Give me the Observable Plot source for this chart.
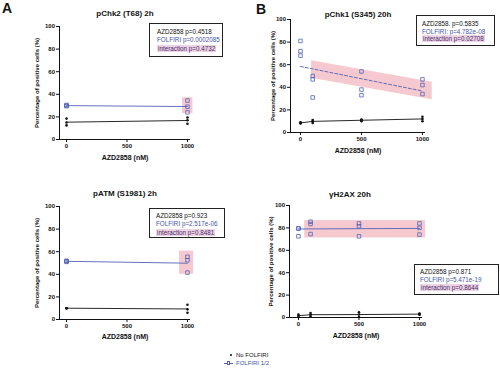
<!DOCTYPE html>
<html><head><meta charset="utf-8">
<script src="https://cdn.jsdelivr.net/npm/d3@7"></script>
<script src="https://cdn.jsdelivr.net/npm/@observablehq/plot@0.6"></script>
<style>
body{margin:0;background:#fff;font-family:"Liberation Sans",Arial,sans-serif;}
#root{position:relative;width:500px;height:382px;overflow:hidden;background:#fff;}
.abs{position:absolute;}
.letter{position:absolute;font-size:14px;font-weight:bold;color:#111;line-height:1;}
.box{position:absolute;border:1px solid #222;background:#fff;box-sizing:border-box;font-size:6.3px;}
.box div{position:absolute;white-space:nowrap;line-height:8px;height:8px;}
.l0{color:#111;}
.l1{color:#4455aa;}
.l2 span{color:#4b2a6a;background:#ecd3e4;padding:0 1px;}
.leg{position:absolute;font-size:6px;color:#111;line-height:8px;white-space:nowrap;}
</style></head><body><div id="root"></div>
<script>
// ---------- data ----------
const doses2h  = [0,0,0,1000,1000,1000];
const doses20h = [0,0,0,100,100,100,500,500,500,1000,1000,1000];

const pChk2NoF = [18.5,15,12.5, 19.5,17,14];
const pChk2F   = [30,29.5,30.5, 34.5,29,24];

const pAtmNoF  = [10,10,10, 13,9,6];
const pAtmF    = [51,52,51.5, 55.5,52.5,41.5];

const pChk1NoF = [8,8.5,9, 8.5,10,11, 10,11,11.5, 10,12,14];
const pChk1F   = [81,72,68, 50,47,31, 54,38,33, 47,42,34];

const h2axNoF  = [2.7,0.5,1.5, 4,1,2.5, 4.7,2.7,0.5, 3,3.5,2.5];
const h2axF    = [79.5,72.5,79.5, 85.5,83.5,74.5, 84,81.5,72.5, 84,80,74];

// shaded confidence regions
const bandPChk2 = [{x1:959, x2:1045, y1:23, y2:37}];
const bandPAtm  = [{x1:934, x2:1050, y1:40, y2:60.5}];
const bandH2ax  = [{x1:52,  x2:1050, y1:71, y2:86.5}];
const bandPChk1 = [{x:90, lo:48, hi:63.5}, {x:1080, lo:29, hi:44.5}];

const xTicks = [0,500,1000];
const yTicks = [0,20,40,60,80,100];
const titles = ["pChk2 (T68) 2h","pChk1 (S345) 20h","pATM (S1981) 2h","γH2AX 20h"];
const xLabel = "AZD2858 (nM)";
const yLabel = "Percentage of positive cells (%)";

const statsPChk2 = ["AZD2858 p=0.4518","FOLFIRI p=0.0002085","interaction p=0.4732"];
const statsPChk1 = ["AZD2858. p=0.5835","FOLFIRI: p=4.782e-08","interaction p=0.02708"];
const statsPAtm  = ["AZD2858 p=0.923","FOLFIRI p=2.517e-06","interaction p=0.8481"];
const statsH2ax  = ["AZD2858 p=0.871","FOLFIRI p=5.471e-19","interaction p=0.8644"];

const legendLabels = ["No FOLFIRI","FOLFIRI 1/2"];

// ---------- styles ----------
const BLUE = "#5062b8";
const BAND = "#f4c3ca";
const INK = "#111";

const root = document.getElementById("root");

function panel(o){
  const rowsNo = o.doses.map((d,i)=>({dose:d, v:o.noF[i]}));
  const rowsF  = o.doses.map((d,i)=>({dose:d, v:o.withF[i]}));
  const marks = [];
  if (o.bandRect) marks.push(Plot.rect(o.bandRect, {x1:"x1", x2:"x2", y1:"y1", y2:"y2", fill:BAND, fillOpacity:0.9}));
  if (o.bandArea) marks.push(Plot.areaY(o.bandArea, {x:"x", y1:"lo", y2:"hi", fill:BAND, fillOpacity:0.9}));
  marks.push(
    Plot.ruleX([o.xd[0]], {stroke:INK, strokeWidth:1}),
    Plot.ruleY([0], {stroke:INK, strokeWidth:1}),
    Plot.axisX(xTicks, {tickSize:3, tickPadding:1.5, fontSize:6, fontWeight:"bold", label:null, stroke:INK, fill:INK, tickFormat:d=>String(d)}),
    Plot.axisY(yTicks, {tickSize:3, tickPadding:1.5, fontSize:6, fontWeight:"bold", label:null, stroke:INK, fill:INK, tickFormat:d=>String(d)}),
    Plot.lineY(rowsNo, Plot.groupX({y:"mean"}, {x:"dose", y:"v", stroke:INK, strokeWidth:0.9})),
    Plot.dot(rowsNo, {x:"dose", y:"v", r:1.3, fill:INK, stroke:null})
  );
  if (o.fit === "mean") marks.push(Plot.lineY(rowsF, Plot.groupX({y:"mean"}, {x:"dose", y:"v", stroke:BLUE, strokeWidth:0.9})));
  else marks.push(Plot.linearRegressionY(rowsF, {x:"dose", y:"v", stroke:BLUE, strokeWidth:0.9, ci:0, strokeDasharray:o.dash || null}));
  marks.push(
    Plot.dot(rowsF, {x:"dose", y:"v", symbol:"square", r:2, stroke:BLUE, fill:"none", strokeWidth:0.8}),
    Plot.text([o.title], {text:d=>d, frameAnchor:"top", dy:o.tDy, dx:o.tDx||0, fontSize:8, fontWeight:"bold", lineAnchor:"middle", textAnchor:"middle", fill:INK}),
    Plot.text([xLabel], {text:d=>d, frameAnchor:"bottom", dy:o.xlDy, fontSize:7, fontWeight:"bold", lineAnchor:"middle", textAnchor:"middle", fill:INK}),
    Plot.text([yLabel], {text:d=>d, frameAnchor:"left", dx:o.ylDx, rotate:-90, fontSize:6, fontWeight:"bold", lineAnchor:"middle", textAnchor:"middle", fill:INK})
  );
  const svg = Plot.plot({
    width:250, height:180,
    marginLeft:o.ml, marginRight:o.mr, marginTop:o.mt, marginBottom:o.mb,
    x:{domain:o.xd}, y:{domain:[0,100]},
    style:{fontFamily:"Liberation Sans, Arial, sans-serif", background:"transparent", overflow:"visible"},
    marks
  });
  svg.style.position = "absolute";
  svg.style.left = o.left + "px";
  svg.style.top = o.top + "px";
  root.appendChild(svg);
}

panel({left:0, top:0, ml:59, mr:60, mt:26, mb:41, xd:[-58,1025], doses:doses2h, noF:pChk2NoF, withF:pChk2F,
  bandRect:bandPChk2, fit:"mean", title:titles[0], tDy:-13, xlDy:18, ylDx:-22});
panel({left:250, top:0, ml:40, mr:75, mt:19, mb:48, xd:[-82,1025], doses:doses20h, noF:pChk1NoF, withF:pChk1F,
  bandArea:bandPChk1, fit:"reg", dash:"3,2", title:titles[1], tDy:-5, xlDy:18, ylDx:-17});
panel({left:0, top:180, ml:59, mr:60, mt:26, mb:41, xd:[-58,1025], doses:doses2h, noF:pAtmNoF, withF:pAtmF,
  bandRect:bandPAtm, fit:"mean", title:titles[2], tDy:-13, xlDy:17, ylDx:-22});
panel({left:250, top:180, ml:39, mr:78, mt:25, mb:43, xd:[-74,1025], doses:doses20h, noF:h2axNoF, withF:h2axF,
  bandRect:bandH2ax, fit:"reg", title:titles[3], tDy:-11, tDx:-6, xlDy:18, ylDx:-18});

function statBox(lines, left, top, w, h, tx, ys){
  const b = document.createElement("div");
  b.className = "box";
  Object.assign(b.style, {left:left+"px", top:top+"px", width:w+"px", height:h+"px"});
  lines.forEach((t,i)=>{
    const d = document.createElement("div");
    d.className = "l"+i;
    d.style.left = tx+"px";
    d.style.top = (ys[i]-4)+"px";
    if (i===2){ const s=document.createElement("span"); s.textContent=t; d.appendChild(s);} else d.textContent = t;
    b.appendChild(d);
  });
  root.appendChild(b);
}
statBox(statsPChk2, 149, 23, 74, 34, 7, [7.5,16,24.5]);
statBox(statsPChk1, 416, 15, 79, 31, 5, [8,15.5,23]);
statBox(statsPAtm, 149, 208, 76, 30, 6, [6.5,15,23.5]);
statBox(statsH2ax, 414, 264, 85, 31, 5, [7,15,23]);

// panel letters
[["A",2,1],["B",256,2]].forEach(([t,x,y])=>{
  const d=document.createElement("div"); d.className="letter"; d.textContent=t;
  d.style.left=x+"px"; d.style.top=y+"px"; root.appendChild(d);
});

// bottom legend
(function(){
  const dot=document.createElement("div");
  Object.assign(dot.style,{position:"absolute",left:"229.8px",top:"353.8px",width:"2.6px",height:"2.6px",borderRadius:"50%",background:INK});
  root.appendChild(dot);
  const ln=document.createElement("div");
  Object.assign(ln.style,{position:"absolute",left:"224px",top:"363px",width:"9px",height:"0.9px",background:BLUE});
  root.appendChild(ln);
  const sq=document.createElement("div");
  Object.assign(sq.style,{position:"absolute",left:"226.5px",top:"361.3px",width:"3.5px",height:"3.5px",border:"0.8px solid "+BLUE,background:"#fff",boxSizing:"border-box"});
  root.appendChild(sq);
  legendLabels.forEach((t,i)=>{
    const d=document.createElement("div"); d.className="leg"; d.textContent=t;
    d.style.left="236px"; d.style.top=(351+i*8)+"px";
    if(i===1) d.style.color="#4455aa";
    root.appendChild(d);
  });
})();
</script></body></html>
